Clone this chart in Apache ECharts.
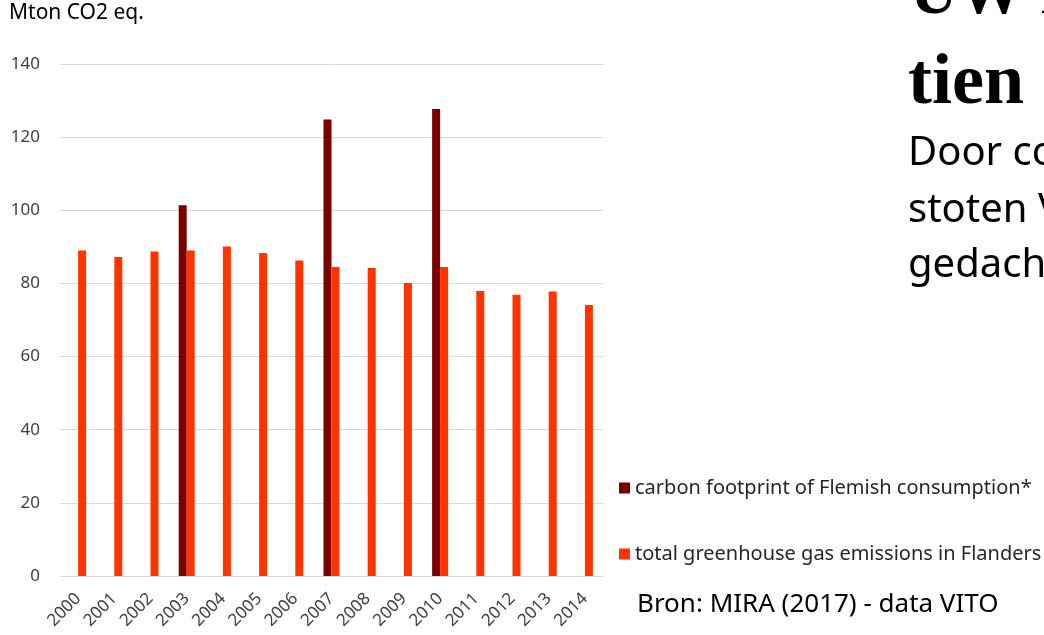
<!DOCTYPE html>
<html>
<head>
<meta charset="utf-8">
<script src="https://cdn.jsdelivr.net/npm/echarts@6/dist/echarts.min.js"></script>
<style>
	html,body{margin:0;padding:0;background:#fff;}
	#chart{width:1044px;height:635px;}
</style>
</head>
<body>
<div id="chart"></div>
<script>
	// jaren
	var years = ['2000','2001','2002','2003','2004','2005','2006','2007','2008','2009','2010','2011','2012','2013','2014'];
	// carbon footprint (alleen 2003, 2007, 2010)
	var footprint = [null,null,null,101.4,null,null,null,124.8,null,null,127.7,null,null,null,null];
	// totale uitstoot Vlaanderen
	var emissions = [89.0,87.2,88.7,89.0,90.1,88.3,86.3,84.5,84.2,80.1,84.5,77.9,76.9,77.8,74.1];
	var yTicks = [0,20,40,60,80,100,120,140];

	var chart = echarts.init(document.getElementById('chart'));
	var font = 'Noto Sans';
	var option = {
		animation:false,
		backgroundColor:'#fff',
		grid:{
			left:60,
			right:441,
			top:64,
			bottom:59
		},
		legend:{
			orient:'vertical',
			left:614,
			top:473,
			itemGap:46,
			itemWidth:11,
			itemHeight:11,
			icon:'rect',
			textStyle:{fontFamily:font,fontSize:20,color:'#262626'},
			data:['carbon footprint of Flemish consumption*','total greenhouse gas emissions in Flanders']
		},
		xAxis:{
			type:'category',
			data:years,
			axisLine:{lineStyle:{color:'#d9d9d9',width:1}},
			axisTick:{show:false},
			axisLabel:{rotate:45,fontFamily:font,fontSize:17,color:'#404040',margin:20,interval:0}
		},
		yAxis:{
			type:'value',
			min:yTicks[0],
			max:yTicks[yTicks.length-1],
			interval:20,
			axisLine:{show:false},
			axisTick:{show:false},
			splitLine:{lineStyle:{color:'#d9d9d9',width:1}},
			axisLabel:{fontFamily:font,fontSize:17,color:'#404040',margin:20}
		},
		series:[{
			name:'carbon footprint of Flemish consumption*',
			type:'bar',
			data:footprint,
			barWidth:8,
			barGap:'0%',
			itemStyle:{color:'#7b0000'}
		},{
			name:'total greenhouse gas emissions in Flanders',
			type:'bar',
			data:emissions,
			barWidth:8,
			barGap:'0%',
			itemStyle:{color:'#ff3300'}
		}],
		graphic:[{
			type:'text',left:9,top:3,
			style:{text:'Mton CO2 eq.',fontFamily:font,fontSize:21,fill:'#000'}
		},{
			type:'text',x:910,y:29,
			style:{text:'UW r',fontFamily:'Liberation Serif',fontWeight:'bold',fontSize:66,fill:'#000',verticalAlign:'bottom'}
		},{
			type:'text',x:908,y:120,
			style:{text:'tien',fontFamily:'Liberation Serif',fontWeight:'bold',fontSize:72,fill:'#000',verticalAlign:'bottom'}
		},{
			type:'text',x:908,y:134,
			style:{text:'Door co',fontFamily:font,fontSize:40,fill:'#000'}
		},{
			type:'text',x:908,y:191,
			style:{text:'stoten V',fontFamily:font,fontSize:40,fill:'#000'}
		},{
			type:'text',x:908,y:246,
			style:{text:'gedach',fontFamily:font,fontSize:40,fill:'#000'}
		},{
			type:'text',x:637,y:592,
			style:{text:'Bron: MIRA (2017) - data VITO',fontFamily:font,fontSize:26,fill:'#000'}
		}]
	};
	chart.setOption(option);
</script>
</body>
</html>
